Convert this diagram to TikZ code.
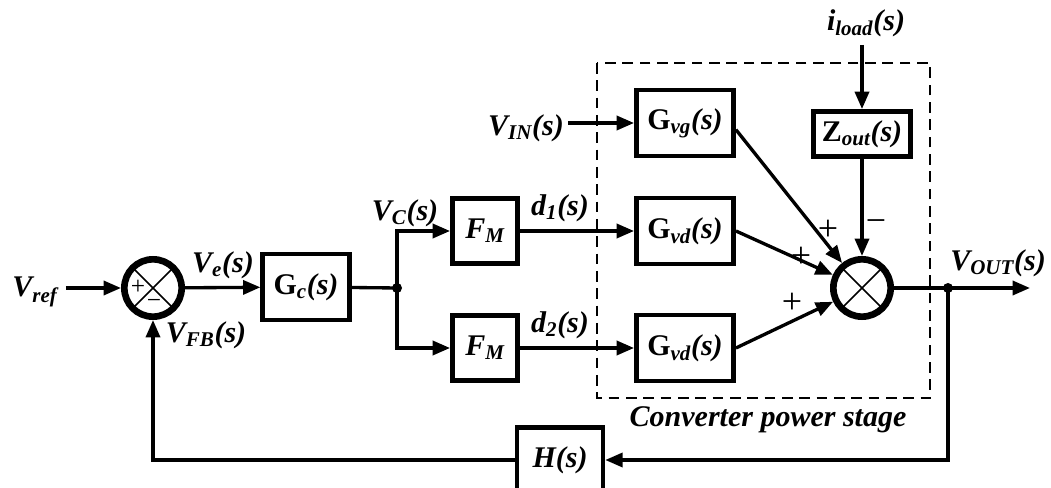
\documentclass[tikz,border=0pt]{standalone}
\usepackage{fontspec}
\setmainfont{Liberation Serif}
\usetikzlibrary{arrows.meta,positioning,calc}
\newcommand{\blockfont}{\fontsize{22.5}{26}\selectfont\bfseries\itshape}
\newcommand{\signfont}{\fontsize{27}{30}\selectfont}
\tikzset{
  blk/.style={draw=black,line width=3.4pt,fill=white,minimum width=73pt,minimum height=49.5pt,inner sep=0pt,font=\blockfont},
  sumnode/.style={circle,draw=black,line width=5pt,fill=white,minimum size=43pt,inner sep=0pt,
    path picture={\draw[line width=1.2pt] (path picture bounding box.north west) -- (path picture bounding box.south east)
      (path picture bounding box.north east) -- (path picture bounding box.south west);}},
  sig/.style={line width=2.5pt,-{Triangle[length=13pt,width=10.5pt]}},
  wire/.style={line width=2.5pt},
  lbl/.style={font=\blockfont,inner sep=0pt},
  sgn/.style={font=\signfont,inner sep=0pt},
  insgn/.style={font=\fontsize{19}{21}\selectfont,inner sep=0pt},
  dot/.style={circle,fill=black,inner sep=0pt,minimum size=7.5pt},
  stage/.style={line width=1.6pt,dash pattern=on 8pt off 5pt}
}

\begin{document}
\begin{tikzpicture}[x=0.75pt,y=-0.75pt]
  \useasboundingbox (0,0) rectangle (1051,488);
  \clip (0,0) rectangle (1051,488);

  % converter power stage
  \draw[stage] (597,63) rectangle (930,398);
  \node[lbl] (stagelbl) at (768,420) {Converter power stage};

  % blocks
  \node[sumnode] (sum1) at (153,288) {};
  \node[blk,minimum width=65pt] (gc) at (306,287) {\textup{G}\textsubscript{c}(s)};
  \node[blk,minimum width=49pt,minimum height=49pt] (fm1) at (485,231) {F\textsubscript{M}};
  \node[blk,minimum width=49pt,minimum height=49pt] (fm2) at (485,348) {F\textsubscript{M}};
  \node[blk] (gvg) at (685,123) {\textup{G}\textsubscript{vg}(s)};
  \node[blk] (gvd1) at (685,231) {\textup{G}\textsubscript{vd}(s)};
  \node[blk] (gvd2) at (685,348) {\textup{G}\textsubscript{vd}(s)};
  \node[blk,minimum height=34pt] (zout) at (862,134) {\textup{Z}\textsubscript{out}(s)};
  \node[sumnode] (sum2) at (862,288) {};
  \node[blk,minimum width=64.5pt,minimum height=49pt] (h) at (560,460) {H(s)};

  % labels
  \node[lbl,inner xsep=6pt] (vref) at (35,292) {V\textsubscript{ref}};
  \node[lbl] (ve) at (223,265) {V\textsubscript{e}(s)};
  \node[lbl] (vfb) at (206,335) {V\textsubscript{FB}(s)};
  \node[lbl] (vc) at (405,213) {V\textsubscript{C}(s)};
  \node[lbl] (d1) at (560,208) {d\textsubscript{1}(s)};
  \node[lbl] (d2) at (560,325) {d\textsubscript{2}(s)};
  \node[lbl,inner xsep=3pt] (vin) at (526,128) {V\textsubscript{IN}(s)};
  \node[lbl,inner ysep=6pt] (iload) at (866,23) {i\textsubscript{load}(s)};
  \node[lbl] (vout) at (998,263) {V\textsubscript{OUT}(s)};

  % signs
  \node[insgn] (p0) at (138,287) {+};
  \node[insgn] (m0) at (154,304) {−};
  \node[sgn] (p1) at (828,230) {+};
  \node[sgn] (p2) at (801,257) {+};
  \node[sgn] (p3) at (792,303) {+};
  \node[sgn] (m1) at (876,226) {−};

  % connectors
  \coordinate (split) at (397,288);
  \coordinate (tap) at (948,288);
  \coordinate (out) at (1030,288);
  \draw[sig] (vref.east |- sum1) -- (sum1);
  \draw[sig] (sum1) -- (gc);
  \draw[wire] (gc) -- (split);
  \draw[sig] (split) |- (fm1);
  \draw[sig] (split) |- (fm2);
  \draw[sig] (fm1) -- (gvd1);
  \draw[sig] (fm2) -- (gvd2);
  \draw[sig] (vin.east |- gvg) -- (gvg);
  \draw[sig] ([yshift=-5pt]gvg.east) -- (sum2);
  \draw[sig] (gvd1.east) -- (sum2);
  \draw[sig] (gvd2.east) -- (sum2);
  \draw[sig] (iload.south -| zout) -- (zout);
  \draw[sig] (zout) -- (sum2);
  \draw[sig] (sum2) -- (out);
  \draw[sig] (tap) |- (h);
  \draw[sig] (h) -| (sum1);
  \node[dot] at (split) {};
  \node[dot] at (tap) {};
\end{tikzpicture}
\end{document}
